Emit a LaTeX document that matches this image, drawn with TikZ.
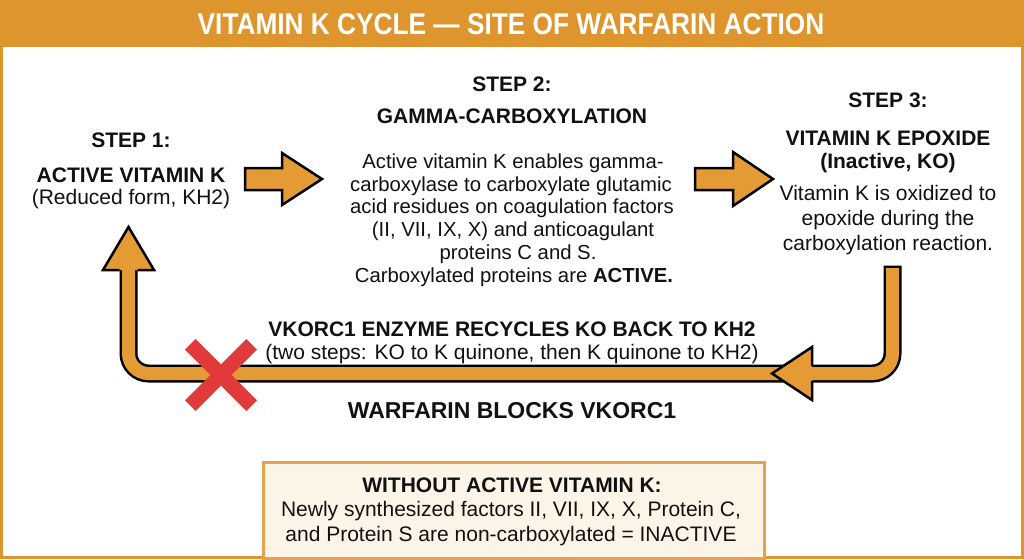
\documentclass[tikz,border=0pt]{standalone}
\usepackage{fontspec}
\setmainfont{Liberation Sans}
\newfontfamily\titlefont{Liberation Sans}[FakeStretch=0.875]
\definecolor{barorange}{HTML}{DF952E}
\definecolor{arroworange}{HTML}{E49B36}
\definecolor{boxfill}{HTML}{FDF4E8}
\definecolor{boxline}{HTML}{E2A24E}
\definecolor{xred}{HTML}{E03A3A}
\definecolor{ink}{HTML}{111111}
\begin{document}
\begin{tikzpicture}[x=1pt,y=-1pt,
  t/.style={anchor=base, inner sep=0pt, text=ink, font=\fontsize{21}{25}\selectfont},
  ts/.style={anchor=base, inner sep=0pt, text=ink, font=\fontsize{20.3}{25}\selectfont},
  tb/.style={anchor=base, inner sep=0pt, text=ink, font=\fontsize{21}{25}\selectfont\bfseries},
  blockarrow/.style={fill=arroworange, draw=black, line width=2.5pt, line join=miter},
  headfill/.style={fill=arroworange},
  headline/.style={draw=black, line width=2.5pt, line join=miter},
  shaftout/.style={draw=black, line width=18pt, rounded corners=20pt},
  shaftin/.style={draw=arroworange, line width=13pt, rounded corners=20pt},
  cross/.style={draw=xred, line width=15pt}
  ]
\useasboundingbox (0,0) rectangle (1024,559);
\fill[white] (0,0) rectangle (1024,559);
\draw[barorange, line width=3pt] (1.5,40) rectangle (1022.5,557.5);
\fill[barorange] (0,0) rectangle (1024,47);
\node[anchor=base, inner sep=0pt, text=white, font=\titlefont\fontsize{30}{36}\selectfont\bfseries] (title) at (511,35) {VITAMIN K CYCLE — SITE OF WARFARIN ACTION};

% Step 1
\node[tb] (s1h) at (131,147) {STEP 1:};
\node[tb] (s1a) at (131,182) {ACTIVE VITAMIN K};
\node[t]  (s1b) at (131,204) {(Reduced form, KH2)};

% Step 2
\node[tb] (s2h) at (512,92) {STEP 2:};
\node[tb] (s2a) at (512,123) {GAMMA-CARBOXYLATION};
\node[ts] (s2l1) at (513,168) {Active vitamin K enables gamma-};
\node[ts] (s2l2) at (511,191) {carboxylase to carboxylate glutamic};
\node[ts] (s2l3) at (512,213.5) {acid residues on coagulation factors};
\node[ts] (s2l4) at (513,236.5) {(II, VII, IX, X) and anticoagulant};
\node[ts] (s2l5) at (518,259) {proteins C and S.};
\node[ts] (s2l6) at (514,282) {Carboxylated proteins are \textbf{ACTIVE.}};

% Step 3
\node[tb] (s3h) at (888,108) {STEP 3:};
\node[tb] (s3a) at (888,145) {VITAMIN K EPOXIDE};
\node[tb] (s3b) at (888,168) {(Inactive, KO)};
\node[t] (s3l1) at (888,200) {Vitamin K is oxidized to};
\node[t] (s3l2) at (888,225) {epoxide during the};
\node[t] (s3l3) at (888,250) {carboxylation reaction.};

% forward arrows
\draw[blockarrow] (245,168) -- (282,168) -- (282,153) -- (322,179) -- (282,205) -- (282,190) -- (245,190) -- cycle;
\draw[blockarrow] (695,168) -- (733,168) -- (733,152) -- (773,179) -- (733,206) -- (733,190) -- (695,190) -- cycle;

% recycling U arrow
\coordinate (rtop) at (892.5,265.5);
\coordinate (rtopin) at (892.5,268);
\coordinate (rbot) at (892.5,373.5);
\coordinate (lbot) at (128.5,373.5);
\coordinate (ltop) at (128.5,262);
\draw[shaftout] (rtop) -- (rbot) -- (lbot) -- (ltop);
\draw[shaftin] (rtopin) -- (rbot) -- (lbot) -- (ltop);
% head at left top
\fill[headfill] (103,270) -- (128.5,227) -- (154,270) -- cycle;
\draw[headline] (119.5,270) -- (103,270) -- (128.5,227) -- (154,270) -- (137.5,270);
% head in the middle (pointing left)
\fill[headfill] (812,347) -- (772,373.5) -- (812,400) -- cycle;
\draw[headline] (812,366) -- (812,347) -- (772,373.5) -- (812,400) -- (812,381);

% labels
\node[tb] (vk1) at (512,336) {VKORC1 ENZYME RECYCLES KO BACK TO KH2};
\node[t] (vk2) at (512,359) {(two steps: KO to K quinone, then K quinone to KH2)};
\node[anchor=base, inner sep=0pt, text=ink, font=\fontsize{23}{27}\selectfont\bfseries] (warf) at (512,418) {WARFARIN BLOCKS VKORC1};

% red X
\draw[cross] (190.3,344.3) -- (251.7,405.7);
\draw[cross] (190.3,405.7) -- (251.7,344.3);

% bottom box
\node[draw=boxline, fill=boxfill, line width=2.5pt, minimum width=501pt, minimum height=96pt, inner sep=0pt, anchor=north west] (box) at (262,461) {};
\node[tb] (bx1) at (512,492) {WITHOUT ACTIVE VITAMIN K:};
\node[t] (bx2) at (511,516) {Newly synthesized factors II, VII, IX, X, Protein C,};
\node[t] (bx3) at (511,541) {and Protein S are non-carboxylated = INACTIVE};
\end{tikzpicture}
\end{document}
